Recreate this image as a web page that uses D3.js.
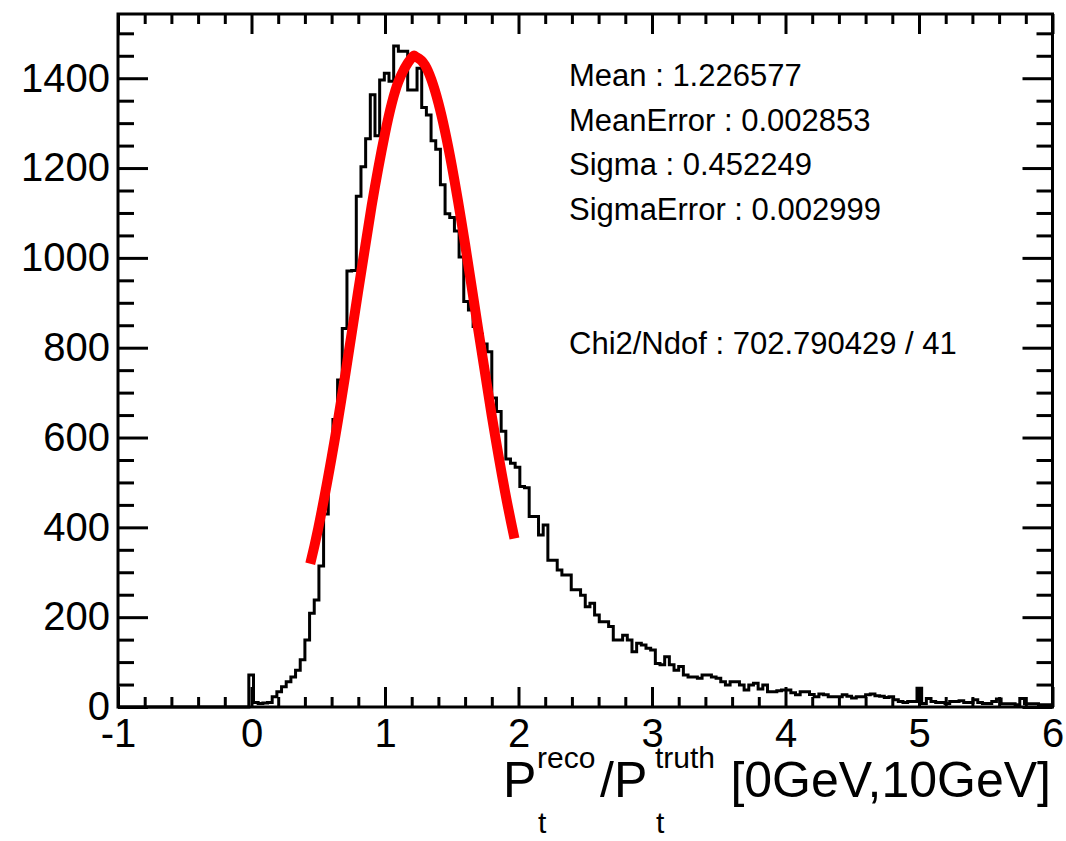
<!doctype html>
<html lang="en">
<head>
<meta charset="utf-8">
<title>Pt reco / Pt truth</title>
<script src="https://cdn.jsdelivr.net/npm/d3@7"></script>
<style>
  body { margin: 0; background: #fff; }
  svg text { font-family: "Liberation Sans", Arial, Helvetica, sans-serif; fill: #000; }
  .axis path.domain { display: none; }
  .axis line { stroke: #000; stroke-width: 3px; }
  .axis text { font-size: 40px; font-family: "Liberation Sans", Arial, Helvetica, sans-serif; }
  .stats { font-size: 31px; }
</style>
</head>
<body>
<div id="viz"></div>
<script>
// binning of the histogram
var xMin = -1, xMax = 6, nBins = 200;

// bin contents (bin 0 starts at x = -1)
var counts = [
  0, 0, 0, 0, 0, 0, 0, 0, 0, 0,
  0, 0, 0, 0, 0, 0, 0, 0, 0, 0,
  0, 0, 0, 0, 0, 0, 0, 0, 71, 10,
  8, 9, 10, 23, 34, 45, 56, 67, 82, 105,
  149, 209, 238, 314, 430, 540, 640, 728, 843, 971,
  972, 1137, 1203, 1265, 1363, 1272, 1396, 1411, 1393, 1472,
  1460, 1460, 1374, 1374, 1422, 1335, 1318, 1261, 1242, 1163,
  1098, 1090, 1060, 1002, 903, 884, 847, 830, 808, 791,
  688, 658, 614, 552, 543, 534, 491, 488, 424, 424,
  383, 405, 327, 327, 305, 294, 294, 261, 261, 249,
  223, 231, 205, 190, 190, 179, 149, 149, 160, 149,
  123, 142, 138, 131, 127, 97, 94, 112, 94, 82,
  90, 71, 67, 67, 64, 71, 71, 67, 64, 56,
  49, 56, 56, 49, 38, 49, 53, 40, 49, 34,
  34, 36, 38, 38, 32, 27, 34, 34, 28, 23,
  29, 27, 23, 23, 23, 27, 24, 20, 23, 23,
  27, 29, 25, 24, 21, 23, 16, 12, 10, 12,
  12, 42, 8, 19, 12, 10, 10, 8, 12, 12,
  14, 10, 10, 16, 10, 8, 8, 12, 18, 7,
  7, 7, 5, 19, 7, 7, 7, 5, 5, 5
];

// gaussian fit curve
var fitX = [0.44, 0.5, 0.6, 0.7, 0.8, 0.9, 1.0, 1.1, 1.2, 1.23, 1.3, 1.4, 1.5, 1.6, 1.7, 1.8, 1.9, 1.97];
var fitY = [319, 398, 555, 735, 928, 1116, 1277, 1392, 1446, 1448, 1429, 1345, 1206, 1030, 837, 648, 478, 375];

// tick values
var xMajor = [-1, 0, 1, 2, 3, 4, 5, 6];
var yMajor = [0, 200, 400, 600, 800, 1000, 1200, 1400];
var yMax = 1543;

// stats box lines
var statLines = [
  "Mean : 1.226577",
  "MeanError : 0.002853",
  "Sigma : 0.452249",
  "SigmaError : 0.002999",
  "",
  "",
  "Chi2/Ndof : 702.790429 / 41"
];

// Dimensions
var w = 1066, h = 841;
var frame = {left: 118, right: 1052.5, top: 14, bottom: 707};

var svg = d3.select("#viz").append("svg")
  .attr("width", w)
  .attr("height", h)
  .attr("viewBox", "0 0 " + w + " " + h);

svg.append("rect").attr("width", w).attr("height", h).attr("fill", "#fff");

// SCALES
var x = d3.scaleLinear().domain([xMin, xMax]).range([frame.left, frame.right]);
var y = d3.scaleLinear().domain([0, yMax]).range([frame.bottom, frame.top]);

var xMinor = d3.range(xMin, xMax + 0.001, 0.2).map(function(d) { return Math.round(d * 10) / 10; })
  .filter(function(d) { return xMajor.indexOf(d) < 0; });
var yMinor = d3.range(0, yMax, 50).filter(function(d) { return d % 200 !== 0; });

// plain labels: ascii hyphen, no thousands separator
var plain = function(d) { return String(d); };

// HISTOGRAM (step outline)
var binW = (xMax - xMin) / nBins;
var pts = [[xMin, 0]];
counts.forEach(function(c, i) {
  pts.push([xMin + i * binW, c]);
  pts.push([xMin + (i + 1) * binW, c]);
});
pts.push([xMax, 0]);

var line = d3.line()
  .x(function(d) { return x(d[0]); })
  .y(function(d) { return y(d[1]); });

svg.append("path")
  .attr("d", line(pts))
  .attr("fill", "none")
  .attr("stroke", "#000")
  .attr("stroke-width", 3)
  .attr("stroke-linejoin", "miter");

// FIT
var fitLine = d3.line()
  .x(function(d) { return x(d[0]); })
  .y(function(d) { return y(d[1]); })
  .curve(d3.curveNatural);

svg.append("path")
  .attr("d", fitLine(fitX.map(function(v, i) { return [v, fitY[i]]; })))
  .attr("fill", "none")
  .attr("stroke", "#ff0000")
  .attr("stroke-width", 10)
  .attr("stroke-linecap", "butt");

// AXES (ticks point inwards, like ROOT)
svg.append("g").attr("class", "axis")
  .attr("transform", "translate(0," + frame.bottom + ")")
  .call(d3.axisBottom(x).tickValues(xMajor).tickSizeInner(-20).tickSizeOuter(0).tickPadding(12)
    .tickFormat(plain));
svg.append("g").attr("class", "axis")
  .attr("transform", "translate(0," + frame.bottom + ")")
  .call(d3.axisBottom(x).tickValues(xMinor).tickSizeInner(-10).tickSizeOuter(0).tickFormat(""));
svg.append("g").attr("class", "axis")
  .attr("transform", "translate(0," + frame.top + ")")
  .call(d3.axisTop(x).tickValues(xMajor).tickSizeInner(-20).tickSizeOuter(0).tickFormat(""));
svg.append("g").attr("class", "axis")
  .attr("transform", "translate(0," + frame.top + ")")
  .call(d3.axisTop(x).tickValues(xMinor).tickSizeInner(-10).tickSizeOuter(0).tickFormat(""));

svg.append("g").attr("class", "axis")
  .attr("transform", "translate(" + frame.left + ",0)")
  .call(d3.axisLeft(y).tickValues(yMajor).tickSizeInner(-30).tickSizeOuter(0).tickPadding(8)
    .tickFormat(plain));
svg.append("g").attr("class", "axis")
  .attr("transform", "translate(" + frame.left + ",0)")
  .call(d3.axisLeft(y).tickValues(yMinor).tickSizeInner(-16).tickSizeOuter(0).tickFormat(""));
svg.append("g").attr("class", "axis")
  .attr("transform", "translate(" + frame.right + ",0)")
  .call(d3.axisRight(y).tickValues(yMajor).tickSizeInner(-30).tickSizeOuter(0).tickFormat(""));
svg.append("g").attr("class", "axis")
  .attr("transform", "translate(" + frame.right + ",0)")
  .call(d3.axisRight(y).tickValues(yMinor).tickSizeInner(-16).tickSizeOuter(0).tickFormat(""));

// FRAME
svg.append("rect")
  .attr("x", frame.left).attr("y", frame.top)
  .attr("width", frame.right - frame.left).attr("height", frame.bottom - frame.top)
  .attr("fill", "none").attr("stroke", "#000").attr("stroke-width", 3);

// STATS
svg.selectAll("text.stats")
  .data(statLines)
  .enter().append("text")
  .attr("class", "stats")
  .attr("x", 569)
  .attr("y", function(d, i) { return 86 + i * 44.7; })
  .text(function(d) { return d; });

// X TITLE
var title = svg.append("g").attr("class", "xtitle");
var big = 50, small = 30;
function put(txt, xx, yy, fs) {
  return title.append("text").attr("x", xx).attr("y", yy).attr("font-size", fs).text(txt);
}
put("P", 503, 797, big);
put("reco", 537, 768, small);
put("t", 538, 833, small);
put("/P", 600, 797, big);
put("truth", 655, 768, small);
put("t", 656, 833, small);
put("[0GeV,10GeV]", 1051, 797, big).attr("text-anchor", "end");
</script>
</body>
</html>
